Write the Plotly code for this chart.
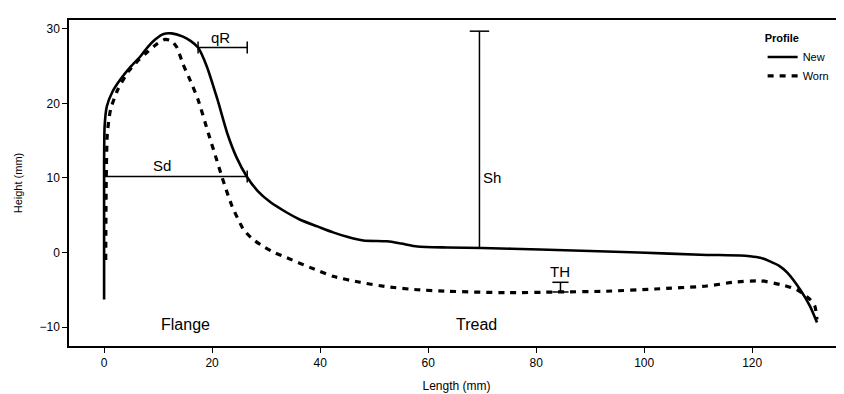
import plotly.graph_objects as go

# New profile (solid)
new_x = [0, 0, 0.1, 0.5, 1.5, 3, 5, 6.7, 8, 9.5, 10.9, 12.5, 14.5, 16, 17.4, 19, 21, 22.8, 24.5, 26.5,
         28.5, 30.7, 33.5, 36.3, 39.5, 42.4, 45, 48, 52.4, 55, 58, 63.5, 70, 80.7, 90, 99, 110.4,
         117.8, 119.6, 121.5, 123.3, 125, 126.5, 128.9, 130.7, 132]
new_y = [-6.3, 12, 17, 19.6, 21.5, 23.2, 25, 26.3, 27.5, 28.6, 29.3, 29.4, 29.0, 28.4, 27.5, 25, 20.5, 16, 12.8, 10.1,
         8.2, 6.8, 5.5, 4.4, 3.5, 2.7, 2.1, 1.6, 1.5, 1.2, 0.8, 0.67, 0.6, 0.4, 0.2, 0.0, -0.3,
         -0.4, -0.5, -0.7, -1.2, -1.8, -2.7, -5.0, -7.2, -9.4]

# Worn profile (dashed)
worn_x = [0.3, 0.4, 0.6, 1.2, 2.5, 4.5, 6.5, 8, 9.8, 11.3, 12.5, 13.5, 14.6, 16, 17.4, 19.3, 20.6, 21.8, 22.8,
          23.7, 25.8, 27.5, 29.5, 31.5, 33.8, 38.1, 42.4, 47.4, 52.4, 58, 63.5, 74.6, 83.9, 93, 102,
          111.6, 116.5, 121.5, 125.2, 128.3, 130.7, 131.6, 132]
worn_y = [-1, 10, 16, 19.2, 21.8, 24.3, 25.9, 26.9, 28.0, 28.6, 28.4, 27.5, 25.3, 23, 20.5, 16, 13, 10.2, 8,
          6.2, 3.1, 1.8, 0.8, 0.0, -0.7, -2.0, -3.2, -4.0, -4.6, -5.0, -5.2, -5.4, -5.3, -5.2, -4.9,
          -4.5, -4.0, -3.8, -4.3, -5.0, -6.3, -7.2, -9.0]

series_names = ["New", "Worn"]
x_ticks = [0, 20, 40, 60, 80, 100, 120]
y_ticks = [-10, 0, 10, 20, 30]

# annotation measurements
sd_y, sd_x0, sd_x1 = 10.2, 0, 26.5
sh_x, sh_y0, sh_y1 = 69.5, 0.7, 29.7
qr_y, qr_x0, qr_x1 = 27.5, 17.4, 26.5
th_x, th_y0, th_y1 = 84.5, -5.3, -4.0

fig = go.Figure()
fig.add_trace(go.Scatter(x=new_x, y=new_y, mode="lines", name=series_names[0],
                         line=dict(color="black", width=2.6, shape="spline", smoothing=0.6)))
fig.add_trace(go.Scatter(x=worn_x, y=worn_y, mode="lines", name=series_names[1],
                         line=dict(color="black", width=3.2, dash="6px,6px", shape="spline", smoothing=0.6)))

line_style = dict(color="black", width=1.5)
# Sd
fig.add_shape(type="line", x0=sd_x0, x1=sd_x1, y0=sd_y, y1=sd_y, line=line_style)
fig.add_shape(type="line", x0=sd_x1, x1=sd_x1, y0=sd_y - 0.8, y1=sd_y + 0.8, line=line_style)
# Sh
fig.add_shape(type="line", x0=sh_x, x1=sh_x, y0=sh_y0, y1=sh_y1, line=line_style)
fig.add_shape(type="line", x0=sh_x - 1.8, x1=sh_x + 1.8, y0=sh_y1, y1=sh_y1, line=line_style)
# qR
fig.add_shape(type="line", x0=qr_x0, x1=qr_x1, y0=qr_y, y1=qr_y, line=line_style)
fig.add_shape(type="line", x0=qr_x0, x1=qr_x0, y0=qr_y - 0.8, y1=qr_y + 0.8, line=line_style)
fig.add_shape(type="line", x0=qr_x1, x1=qr_x1, y0=qr_y - 0.8, y1=qr_y + 0.8, line=line_style)
# TH
fig.add_shape(type="line", x0=th_x, x1=th_x, y0=th_y0, y1=th_y1, line=line_style)
fig.add_shape(type="line", x0=th_x - 1.5, x1=th_x + 1.5, y0=th_y0, y1=th_y0, line=line_style)
fig.add_shape(type="line", x0=th_x - 1.5, x1=th_x + 1.5, y0=th_y1, y1=th_y1, line=line_style)

fam = "Liberation Sans, Arial, sans-serif"
font_lbl = dict(family=fam, size=15, color="black")
fig.add_annotation(x=10.7, y=sd_y, text="Sd", showarrow=False, yanchor="bottom", font=font_lbl)
fig.add_annotation(x=sh_x + 0.3, y=10, text="Sh", showarrow=False, xanchor="left", font=font_lbl)
fig.add_annotation(x=21.5, y=qr_y, text="qR", showarrow=False, yanchor="bottom", font=font_lbl)
fig.add_annotation(x=th_x, y=th_y1 + 0.1, text="TH", showarrow=False, yanchor="bottom", font=font_lbl)
fig.add_annotation(x=15, y=-9.7, text="Flange", showarrow=False, font=dict(family=fam, size=16, color="black"))
fig.add_annotation(x=69, y=-9.7, text="Tread", showarrow=False, font=dict(family=fam, size=16, color="black"))

fig.update_layout(
    width=836, height=386,
    margin=dict(l=61, r=0, t=12, b=48),
    paper_bgcolor="white", plot_bgcolor="white",
    font=dict(family=fam, color="black", size=12),
    legend=dict(x=0.895, y=0.975, xanchor="left", yanchor="top",
                title=dict(text="<b>Profile</b>", font=dict(size=11)),
                font=dict(size=11), bgcolor="rgba(0,0,0,0)", itemwidth=30, tracegroupgap=0),
    xaxis=dict(range=[-6.5, 137], tickvals=x_ticks, showgrid=False, zeroline=False,
               showline=True, linecolor="black", linewidth=1.5, mirror=True,
               ticks="outside", ticklen=5, tickcolor="black",
               title=dict(text="Length (mm)", font=dict(size=12), standoff=12)),
    yaxis=dict(range=[-12.55, 31.2], tickvals=y_ticks, showgrid=False, zeroline=False,
               showline=True, linecolor="black", linewidth=1.5,
               ticks="outside", ticklen=5, tickcolor="black",
               title=dict(text="Height (mm)", font=dict(size=11), standoff=15)),
)

fig.write_html("out.html")
